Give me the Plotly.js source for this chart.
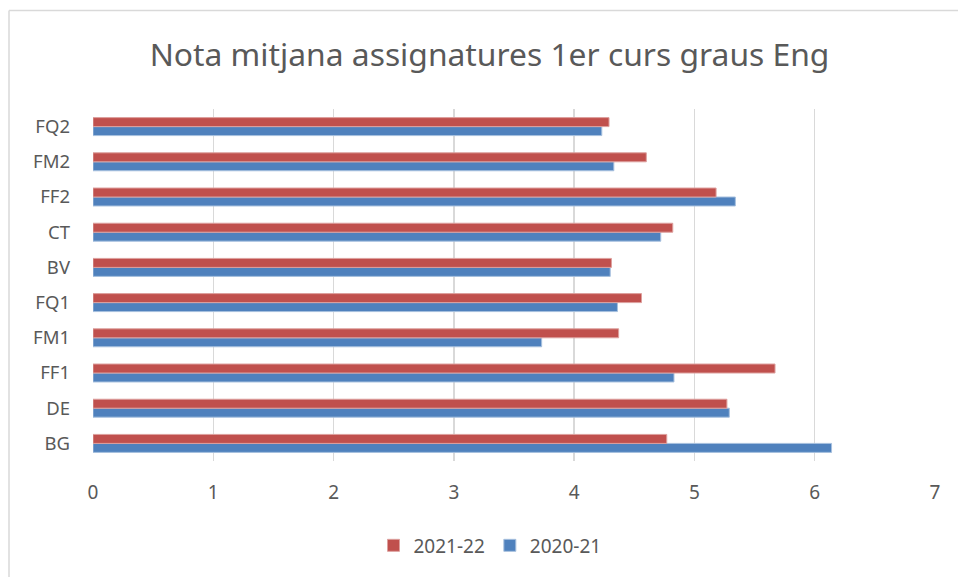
<!DOCTYPE html>
<html>
<head>
<meta charset="utf-8">
<script src="https://cdn.plot.ly/plotly-3.0.1.min.js"></script>
<style>
html,body{margin:0;padding:0;background:#fff;}
#chart{width:958px;height:577px;}
</style>
</head>
<body>
<div id="chart"></div>
<script>
const categories = ['BG','DE','FF1','FM1','FQ1','BV','CT','FF2','FM2','FQ2'];
const values2020_21 = [6.14, 5.29, 4.83, 3.73, 4.36, 4.30, 4.72, 5.34, 4.33, 4.23];
const values2021_22 = [4.77, 5.27, 5.67, 4.37, 4.56, 4.31, 4.82, 5.18, 4.60, 4.29];
const seriesNames = ['2020-21', '2021-22'];
const xTicks = [0,1,2,3,4,5,6,7];

const FONT = 'Noto Sans, Open Sans, sans-serif';
const GREY = '#595959';

const traces = [
  {
    type: 'bar', orientation: 'h', name: seriesNames[0],
    y: categories, x: values2020_21,
    marker: {color: '#4F81BD', line: {color: '#A7C0DE', width: 1}},
    hoverinfo: 'x+y'
  },
  {
    type: 'bar', orientation: 'h', name: seriesNames[1],
    y: categories, x: values2021_22,
    marker: {color: '#C0504D', line: {color: '#DDA09E', width: 1}},
    hoverinfo: 'x+y'
  }
];

const layout = {
  width: 958, height: 577,
  margin: {l: 93, r: 23, t: 109, b: 114},
  paper_bgcolor: '#fff', plot_bgcolor: '#fff',
  font: {family: FONT, color: GREY, size: 18},
  title: {
    text: 'Nota mitjana assignatures 1er curs graus Eng',
    font: {family: FONT, size: 31.8, color: GREY},
    x: 0.511, xanchor: 'center', y: 0.905, yanchor: 'middle'
  },
  barmode: 'group',
  bargap: 0.49,
  bargroupgap: 0,
  xaxis: {
    range: [0, 7], tickvals: xTicks, ticktext: xTicks.map(String),
    showgrid: true, gridcolor: '#D9D9D9', gridwidth: 1.5,
    zeroline: false, showline: false, ticks: '',
    ticklabelstandoff: 18,
    tickfont: {family: FONT, size: 19, color: GREY},
    fixedrange: true
  },
  yaxis: {
    type: 'category', categoryorder: 'array', categoryarray: categories,
    showgrid: false, zeroline: false, showline: false, ticks: '',
    ticklabelstandoff: 22,
    tickfont: {family: FONT, size: 18.5, color: GREY},
    fixedrange: true
  },
  showlegend: true,
  legend: {
    orientation: 'h', traceorder: 'reversed',
    x: 0.4715, xanchor: 'center', y: -0.24, yanchor: 'middle',
    font: {family: FONT, size: 19, color: GREY},
    itemwidth: 30
  },
  shapes: [
    {type: 'line', xref: 'paper', yref: 'paper',
     x0: (9 - 93) / 842, x1: (9 - 93) / 842, y0: (463 - 10) / 354, y1: (463 - 580) / 354,
     line: {color: '#D9D9D9', width: 1.5}},
    {type: 'line', xref: 'paper', yref: 'paper',
     x0: (9 - 93) / 842, x1: (960 - 93) / 842, y0: (463 - 10) / 354, y1: (463 - 10) / 354,
     line: {color: '#D9D9D9', width: 1.5}}
  ]
};

Plotly.newPlot('chart', traces, layout, {displayModeBar: false, staticPlot: true});
</script>
</body>
</html>
